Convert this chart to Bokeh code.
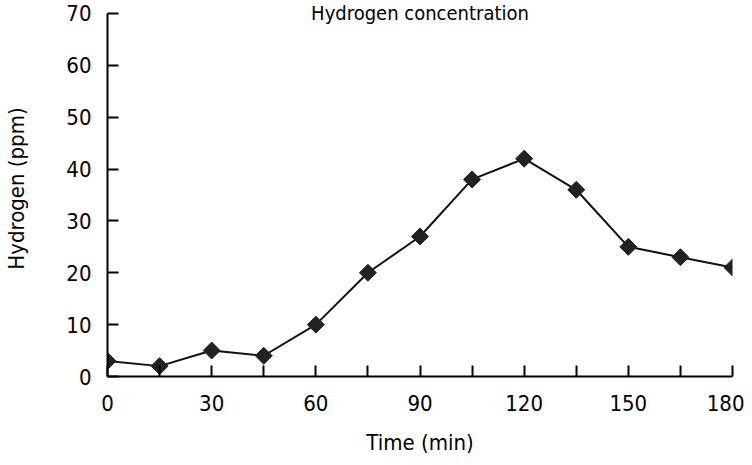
import math
from bokeh.plotting import figure
from bokeh.models import Range1d, FixedTicker, Label
from bokeh.embed import file_html
from bokeh.resources import INLINE

time_min = [0, 15, 30, 45, 60, 75, 90, 105, 120, 135, 150, 165, 180]
hydrogen_ppm = [3, 2, 5, 4, 10, 20, 27, 38, 42, 36, 25, 23, 21]
x_major_ticks = [0, 30, 60, 90, 120, 150, 180]
x_minor_ticks = [15, 45, 75, 105, 135, 165]
y_ticks = [0, 10, 20, 30, 40, 50, 60, 70]

FONT = "DejaVu Sans Condensed"

p = figure(width=744, height=457, output_backend="svg", toolbar_location=None,
           x_range=Range1d(0, 180), y_range=Range1d(0, 72.5),
           min_border_left=107, min_border_right=12, min_border_top=0,
           min_border_bottom=81)
p.outline_line_color = None
p.grid.visible = False

p.line(time_min, hydrogen_ppm, line_color="#111111", line_width=2)
p.scatter(time_min, hydrogen_ppm, marker="square", size=12, angle=math.pi / 4,
          fill_color="#222222", line_color="#222222")

for ax in (p.xaxis[0], p.yaxis[0]):
    ax.axis_line_color = "black"
    ax.axis_line_width = 2
    ax.major_tick_line_color = "black"
    ax.major_tick_line_width = 2
    ax.major_tick_in = 11
    ax.major_tick_out = 0
    ax.minor_tick_line_color = "black"
    ax.minor_tick_line_width = 2
    ax.minor_tick_in = 11
    ax.minor_tick_out = 0
    ax.major_label_text_font = FONT
    ax.major_label_text_font_size = "22px"
    ax.major_label_text_color = "black"
    ax.axis_label_text_font = FONT
    ax.axis_label_text_font_size = "22px"
    ax.axis_label_text_font_style = "normal"
    ax.axis_label_text_color = "black"

p.xaxis.ticker = FixedTicker(ticks=x_major_ticks, minor_ticks=x_minor_ticks)
p.yaxis.ticker = FixedTicker(ticks=y_ticks, minor_ticks=[])
p.yaxis.bounds = (0, 70)
p.xaxis.axis_label = "Time (min)"
p.yaxis.axis_label = "Hydrogen (ppm)"
p.xaxis.major_label_standoff = 18
p.yaxis.major_label_standoff = 16
p.xaxis.axis_label_standoff = 16
p.yaxis.axis_label_standoff = 34

title = Label(x=90, y=70, text="Hydrogen concentration", text_align="center",
              text_baseline="middle", text_font=FONT, text_font_size="20px",
              text_color="black")
p.add_layout(title)

open("out.html", "w").write(file_html(p, INLINE))
